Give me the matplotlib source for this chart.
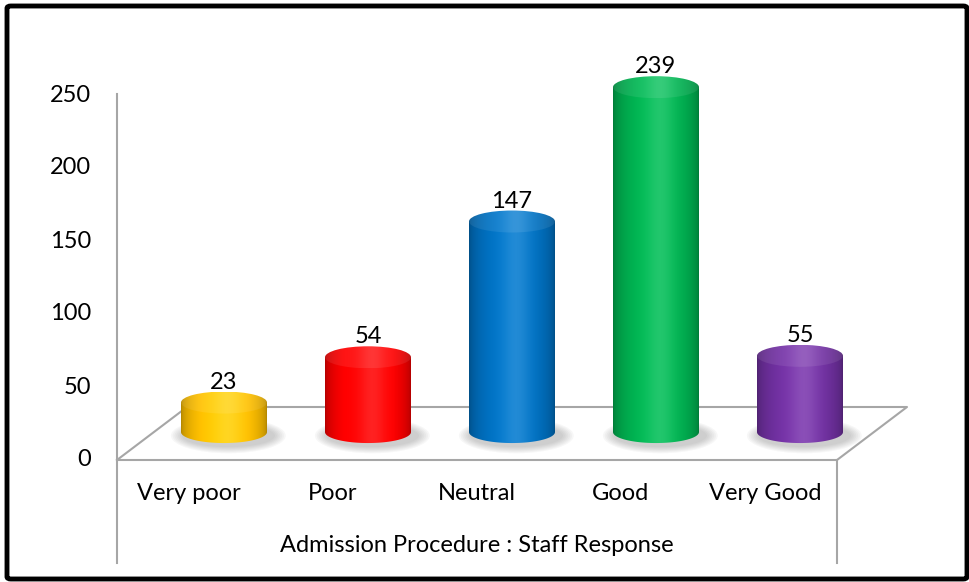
import numpy as np
import matplotlib
matplotlib.use('Agg')
import matplotlib.pyplot as plt
from matplotlib.patches import Ellipse, PathPatch, FancyBboxPatch
from matplotlib.path import Path
from matplotlib.colors import to_rgb

# data
categories = ['Very poor', 'Poor', 'Neutral', 'Good', 'Very Good']
values = [23, 54, 147, 239, 55]
colors = ['#FFC000', '#FF0000', '#0070C0', '#00B050', '#7030A0']
y_ticks = [0, 50, 100, 150, 200, 250]
x_title = 'Admission Procedure : Staff Response'

plt.rcParams['font.family'] = ['Lato', 'DejaVu Sans']

W, H = 970, 582
fig = plt.figure(figsize=(W / 100, H / 100), dpi=100)
ax = fig.add_axes([0, 0, 1, 1])
ax.axis('off')

# pixel anchors of the floor front edge / value axis
x0_px, x1_px = 117, 837
y0_px, ytop_px = 460, 95
px_cat = (x1_px - x0_px) / len(categories)
px_val = (y0_px - ytop_px) / 250

# depth of the floor (3d look)
dx = 70 / px_cat
dy = 53 / px_val
xl, xr = -0.5, len(categories) - 0.5
grey = '#A6A6A6'
floor_x = [xl, xr, xr + dx, xl + dx, xl]
floor_y = [0, 0, dy, dy, 0]
ax.plot(floor_x, floor_y, color=grey, lw=1.5, zorder=1)
y_bot = -(563 - y0_px) / px_val
ax.plot([xl, xl], [y_bot, 250 + 1 / px_val], color=grey, lw=1.5, zorder=1)
ax.plot([xr, xr], [y_bot, 0], color=grey, lw=1.5, zorder=1)

# y tick labels
for v in y_ticks:
    ax.text(xl - 26 / px_cat, v, str(v), ha='right', va='center', fontsize=17)

# category labels + axis title
for i, c in enumerate(categories):
    ax.text(i, -(493 - y0_px) / px_val, c, ha='center', va='center', fontsize=17)
ax.text((xl + xr) / 2, -(546 - y0_px) / px_val, x_title, ha='center', va='center', fontsize=17)

# cylinders
cw = 86 / px_cat
eh = 22 / px_val
base = dy / 2 + 1
lift = dy / 2 - 1.8   # top sits a little lower because of the perspective
u = np.linspace(0, 1, 256)
shade = 0.68 + 0.4 * np.sin(np.pi * u) ** 0.5
hl = 0.13 * np.exp(-((u - 0.55) / 0.16) ** 2)


def grad(col, extra=0.0):
    rgb = np.array(to_rgb(col))
    img = np.clip(rgb[None, :] * shade[:, None], 0, 1)
    mix = (hl + extra)[:, None]
    img = img * (1 - mix) + mix
    return img[None, :, :]


for i, (v, col) in enumerate(zip(values, colors)):
    cx = i + dx / 2
    top = v + lift
    # soft shadow on the floor
    for k in range(7):
        sh = Ellipse((cx + 0.03, base - 2.5), cw + 0.2 - k * 0.025, eh * 1.6 - k * 1.4,
                     color='#707070', alpha=0.055, lw=0, zorder=2)
        ax.add_patch(sh)
    # body
    t = np.linspace(np.pi, 2 * np.pi, 60)
    bx = cx + cw / 2 * np.cos(t)
    by = base + eh / 2 * np.sin(t)
    verts = list(zip(bx, by)) + [(cx + cw / 2, top), (cx - cw / 2, top), (bx[0], by[0])]
    body = PathPatch(Path(verts, closed=True), fc='none', ec='none', zorder=3)
    ax.add_patch(body)
    im = ax.imshow(grad(col), extent=[cx - cw / 2, cx + cw / 2, base - eh, top],
                   aspect='auto', zorder=3, interpolation='bilinear')
    im.set_clip_path(body)
    # top face
    cap = Ellipse((cx, top), cw, eh, fc='none', ec='none', zorder=4)
    ax.add_patch(cap)
    im2 = ax.imshow(grad(col, 0.08), extent=[cx - cw / 2, cx + cw / 2, top - eh / 2, top + eh / 2],
                    aspect='auto', zorder=4, interpolation='bilinear')
    im2.set_clip_path(cap)
    ax.text(cx, top + eh / 2 + 3 / px_val, str(v), ha='center', va='baseline', fontsize=17, zorder=5)

ax.set_xlim(-0.5 - x0_px / px_cat, -0.5 + (W - x0_px) / px_cat)
ax.set_ylim(-(H - y0_px) / px_val, y0_px / px_val)

# outer frame
frame = FancyBboxPatch((7 / W, 3 / H), (W - 10) / W, (H - 9) / H,
                       boxstyle='round,pad=0,rounding_size=0.004', transform=fig.transFigure,
                       fc='none', ec='black', lw=3.5)
fig.patches.append(frame)

fig.savefig('out.png', dpi=100)
